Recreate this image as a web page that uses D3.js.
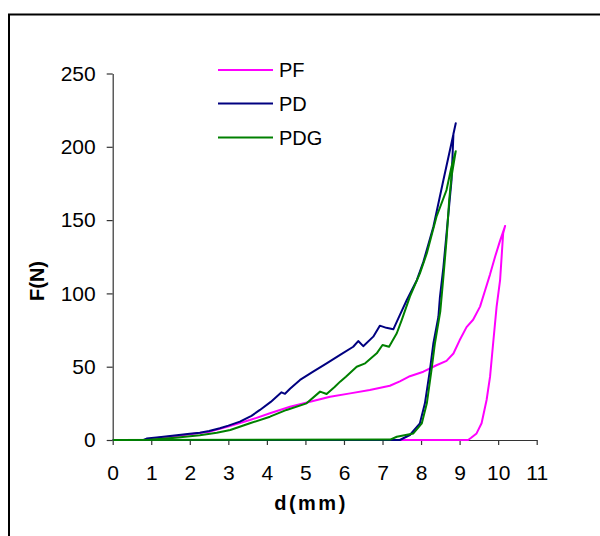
<!DOCTYPE html>
<html>
<head>
<meta charset="utf-8">
<script src="https://cdn.jsdelivr.net/npm/d3@7"></script>
<style>
  html, body { margin: 0; padding: 0; background: #fff; }
  svg { display: block; }
  text { font-family: "Liberation Sans", Arial, sans-serif; }
</style>
</head>
<body>
<svg id="chart" width="600" height="536"></svg>
<script>
// ---- data (d in mm, F in N) ----
const seriesNames = ["PF", "PD", "PDG"];
const seriesColors = ["#FF00FF", "#000080", "#008000"];

const pfD = [0, 0.84, 1.2, 1.66, 2.1, 2.52, 3.04, 3.56, 4.08, 4.6, 5.12, 5.64, 6.16, 6.67, 7.19, 7.45, 7.71, 8.06, 8.4, 8.66, 8.84, 9.0, 9.18, 9.35, 9.53, 9.66, 9.79, 9.92, 10.05, 10.18,
             10.13, 10.09, 10.05, 9.96, 9.87, 9.79, 9.7, 9.57, 9.44, 9.3, 9.22, 0];
const pfF = [0, 0, 1.5, 2.7, 4.2, 5.7, 9.5, 13.6, 18.2, 22.7, 26.1, 29.5, 31.8, 34.1, 37.0, 40.0, 43.5, 46.6, 51.0, 54.0, 59.0, 68.0, 77.0, 82.0, 91.0, 102, 113, 125, 136, 146,
             141, 125, 109, 91, 66, 43.2, 27.3, 11.4, 4.5, 1.5, 0, 0];

const pdD = [0, 0.8, 0.88, 1.2, 1.66, 2.0, 2.26, 2.5, 2.78, 3.0, 3.3, 3.6, 3.82, 4.1, 4.38, 4.47, 4.6, 4.86, 5.2, 5.55, 5.9, 6.24, 6.37, 6.5, 6.76, 6.93, 7.1, 7.28, 7.41, 7.63, 7.89, 8.06, 8.32, 8.58, 8.75, 8.9,
             8.84, 8.79, 8.71, 8.58, 8.49, 8.45, 8.32, 8.23, 8.1, 7.97, 7.71, 7.54, 7.45, 0];
const pdF = [0, 0, 1, 1.8, 3.2, 4.2, 5, 6.2, 8, 9.8, 12.5, 16.5, 20.5, 26, 32.5, 31.5, 35, 41, 46.6, 52.3, 58, 63.6, 67.5, 64, 70.5, 78, 76.5, 75.5, 83, 95.5, 109, 121.5, 145.5, 177.4, 197.8, 216,
             209, 177, 154.6, 118, 97.7, 84.1, 66, 47.7, 25, 11.4, 3.4, 1.2, 0, 0];

const pdgD = [0, 0.9, 1.3, 1.75, 2.26, 2.7, 3.05, 3.56, 4.08, 4.51, 5.03, 5.38, 5.55, 5.75, 5.9, 6.05, 6.33, 6.55, 6.85, 7.0, 7.17, 7.37, 7.5, 7.71, 7.97, 8.15, 8.4, 8.66, 8.79, 8.9,
              8.79, 8.73, 8.66, 8.58, 8.5, 8.36, 8.27, 8.15, 8.02, 7.8, 7.37, 7.2, 0];
const pdgF = [0, 0, 0.8, 1.8, 3.2, 5, 6.8, 11.4, 15.9, 20.5, 25, 33, 31.4, 36, 39.8, 43.2, 50, 52.3, 59.1, 64.8, 63.6, 72.8, 82, 97.8, 113.7, 127.4, 152.3, 170.5, 186.4, 197,
              179.6, 163.7, 136.4, 111.4, 88, 66, 47.7, 25, 11.4, 4.5, 2.2, 0.3, 0];

const xTicks = [0, 1, 2, 3, 4, 5, 6, 7, 8, 9, 10, 11];
const yTicks = [0, 50, 100, 150, 200, 250];
const xTitle = "d(mm)";
const yTitle = "F(N)";

const seriesD = [pfD, pdD, pdgD];
const seriesF = [pfF, pdF, pdgF];

// ---- drawing ----
const svg = d3.select("#chart");

// outer frame (extends beyond the window on right and bottom)
svg.append("rect")
  .attr("x", 9).attr("y", 14.5)
  .attr("width", 800).attr("height", 800)
  .attr("fill", "none").attr("stroke", "#000").attr("stroke-width", 2);

const x = d3.scaleLinear().domain([0, 11]).range([112.7, 536.7]);
const y = d3.scaleLinear().domain([0, 250]).range([440, 73.5]);

const fontSize = 21;

const yAxis = svg.append("g")
  .attr("transform", "translate(112.7,0)")
  .call(d3.axisLeft(y).tickValues(yTicks).tickSize(6).tickSizeOuter(0).tickPadding(11));
yAxis.selectAll("text").attr("font-size", fontSize).attr("fill", "#000")
  .style("font-family", "'Liberation Sans', Arial, sans-serif");

const xAxis = svg.append("g")
  .attr("transform", "translate(0,440)")
  .call(d3.axisBottom(x).tickValues(xTicks).tickSize(5).tickSizeOuter(0).tickPadding(20));
xAxis.selectAll("text").attr("font-size", fontSize).attr("fill", "#000")
  .style("font-family", "'Liberation Sans', Arial, sans-serif");

[xAxis, yAxis].forEach(a => {
  a.select(".domain").attr("stroke", "#333").attr("stroke-width", 1.2);
  a.selectAll(".tick line").attr("stroke", "#333").attr("stroke-width", 1.2);
});

// series lines
const line = d3.line().x(d => x(d[0])).y(d => y(d[1]));
seriesNames.forEach((name, i) => {
  const pts = seriesD[i].map((d, j) => [d, seriesF[i][j]]);
  svg.append("path")
    .datum(pts)
    .attr("d", line)
    .attr("fill", "none")
    .attr("stroke", seriesColors[i])
    .attr("stroke-width", 2)
    .attr("stroke-linejoin", "round");
});

// legend
const legY = [70, 103.5, 137.5];
seriesNames.forEach((name, i) => {
  svg.append("line")
    .attr("x1", 218).attr("x2", 273)
    .attr("y1", legY[i]).attr("y2", legY[i])
    .attr("stroke", seriesColors[i]).attr("stroke-width", 2);
  svg.append("text")
    .attr("x", 279).attr("y", legY[i] + 7.3)
    .attr("font-size", 20)
    .attr("fill", "#000")
    .text(name);
});

// axis titles
svg.append("text")
  .attr("x", 311).attr("y", 510)
  .attr("text-anchor", "middle")
  .attr("font-size", 20).attr("font-weight", "bold")
  .attr("letter-spacing", 2.5)
  .text(xTitle);

svg.append("text")
  .attr("transform", "translate(44,281) rotate(-90)")
  .attr("text-anchor", "middle")
  .attr("font-size", 20).attr("font-weight", "bold")
  .text(yTitle);
</script>
</body>
</html>
